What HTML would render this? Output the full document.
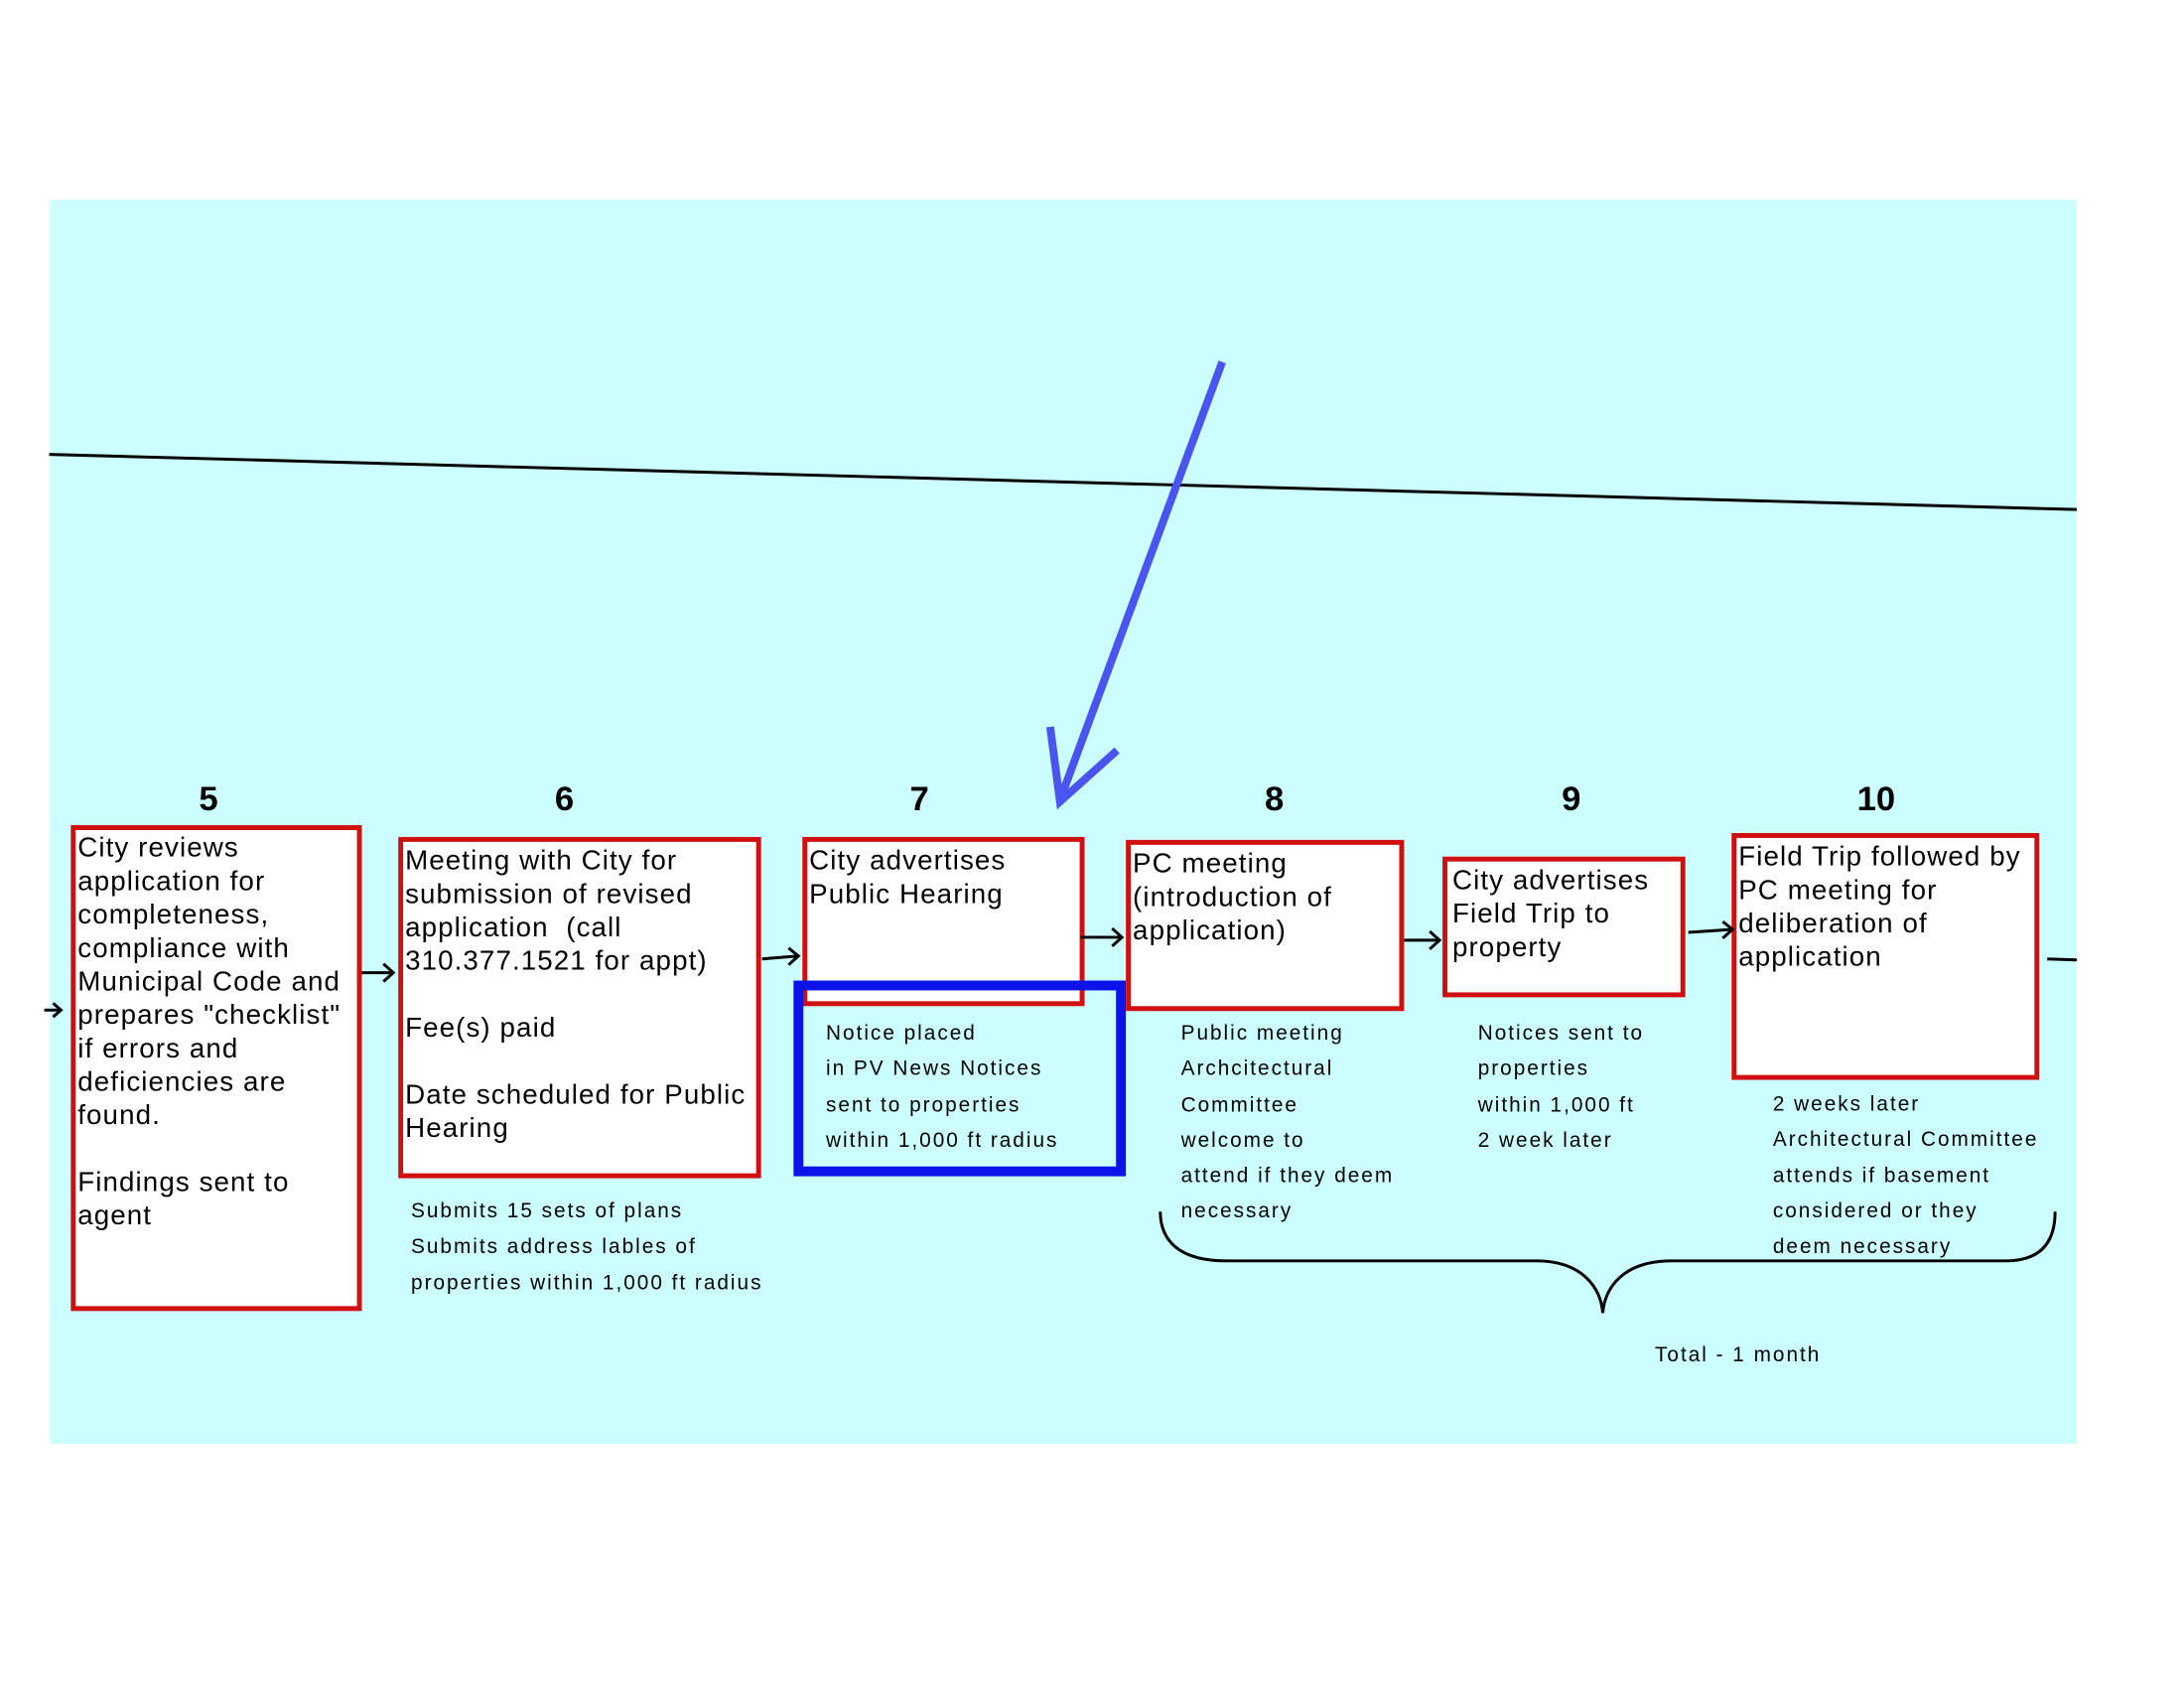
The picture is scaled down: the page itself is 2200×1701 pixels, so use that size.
<!DOCTYPE html>
<html><head><meta charset="utf-8"><style>
html,body{margin:0;padding:0;background:#fff;}
body{width:2200px;height:1700px;position:relative;overflow:hidden;font-family:"Liberation Sans",sans-serif;}
#w{position:absolute;left:0;top:0;width:2222px;height:1717px;transform:scale(0.9905);transform-origin:0 0;}
.bg{position:absolute;left:51px;top:203px;width:2061px;height:1265px;background:#ccffff;}
.box{position:absolute;border:5px solid #d01010;background:#fff;box-sizing:border-box;}
.t{position:absolute;font-size:28px;line-height:34px;color:#000;white-space:pre;letter-spacing:1.1px;}
.s{position:absolute;font-size:21px;line-height:36.3px;color:#000;white-space:pre;letter-spacing:2px;}
.n{position:absolute;font-size:35px;font-weight:bold;top:793px;width:80px;text-align:center;margin-left:-40px;}
svg{position:absolute;left:0;top:0;}
</style></head><body><div id="w">
<div class="bg"></div>
<div class="box" style="left:72px;top:839px;width:296px;height:494px"></div>
<div class="box" style="left:405px;top:851px;width:369px;height:347px"></div>
<div class="box" style="left:816px;top:851px;width:287px;height:172px"></div>
<div style="position:absolute;left:807px;top:997px;width:338px;height:199px;border:10px solid #0a14e8;box-sizing:border-box;"></div>
<div class="box" style="left:1145px;top:854px;width:283px;height:174px"></div>
<div class="box" style="left:1467px;top:871px;width:247px;height:143px"></div>
<div class="box" style="left:1761px;top:847px;width:313px;height:251px"></div>

<div class="n" style="left:212px">5</div>
<div class="n" style="left:574px">6</div>
<div class="n" style="left:935px">7</div>
<div class="n" style="left:1296px">8</div>
<div class="n" style="left:1598px">9</div>
<div class="n" style="left:1908px">10</div>

<div class="t" style="left:79px;top:845px">City reviews
application for
completeness,
compliance with
Municipal Code and
prepares "checklist"
if errors and
deficiencies are
found.

Findings sent to
agent</div>
<div class="t" style="left:412px;top:858px">Meeting with City for
submission of revised
application  (call
310.377.1521 for appt)

Fee(s) paid

Date scheduled for Public
Hearing</div>
<div class="t" style="left:823px;top:858px">City advertises
Public Hearing</div>
<div class="t" style="left:1152px;top:861px">PC meeting
(introduction of
application)</div>
<div class="t" style="left:1477px;top:878px">City advertises
Field Trip to
property</div>
<div class="t" style="left:1768px;top:854px">Field Trip followed by
PC meeting for
deliberation of
application</div>

<div class="s" style="left:840px;top:1033px">Notice placed
in PV News Notices
sent to properties
within 1,000 ft radius</div>
<div class="s" style="left:418px;top:1214px">Submits 15 sets of plans
Submits address lables of
properties within 1,000 ft radius</div>
<div class="s" style="left:1201px;top:1033px">Public meeting
Archcitectural
Committee
welcome to
attend if they deem
necessary</div>
<div class="s" style="left:1503px;top:1033px">Notices sent to
properties
within 1,000 ft
2 week later</div>
<div class="s" style="left:1803px;top:1105px">2 weeks later
Architectural Committee
attends if basement
considered or they
deem necessary</div>
<div class="s" style="left:1683px;top:1360px">Total - 1 month</div>

<svg width="2222" height="1717" viewBox="0 0 2222 1717">
<line x1="50" y1="462" x2="2112" y2="518" stroke="#000" stroke-width="3"/>
<g stroke="#4a55f0" stroke-width="8" fill="none" stroke-linecap="butt">
<line x1="1243" y1="368" x2="1080" y2="808"/>
<polyline points="1068,739 1078,815 1136,763"/>
</g>
<g stroke="#000" stroke-width="3" fill="none">
<line x1="45" y1="1027" x2="62" y2="1027"/><polyline points="54,1020 62,1027 54,1034"/>
<line x1="368" y1="989" x2="400" y2="989"/><polyline points="390,980 400,989 390,998"/>
<line x1="775" y1="975" x2="812" y2="972"/><polyline points="802,964 812,972 802,981"/>
<line x1="1099" y1="953" x2="1141" y2="953"/><polyline points="1131,944 1141,953 1131,962"/>
<line x1="1428" y1="956" x2="1464" y2="956"/><polyline points="1454,947 1464,956 1454,965"/>
<line x1="1717" y1="948" x2="1762" y2="945"/><polyline points="1752,937 1762,945 1752,954"/>
<line x1="2082" y1="975" x2="2112" y2="976"/>
<path d="M1180,1232 C1180,1262 1200,1282 1247,1282 L1562,1282 C1610,1282 1628,1310 1630,1335 C1632,1310 1650,1282 1700,1282 L2040,1282 C2080,1282 2090,1258 2090,1232"/>
</g>
</svg>
</div></body></html>
